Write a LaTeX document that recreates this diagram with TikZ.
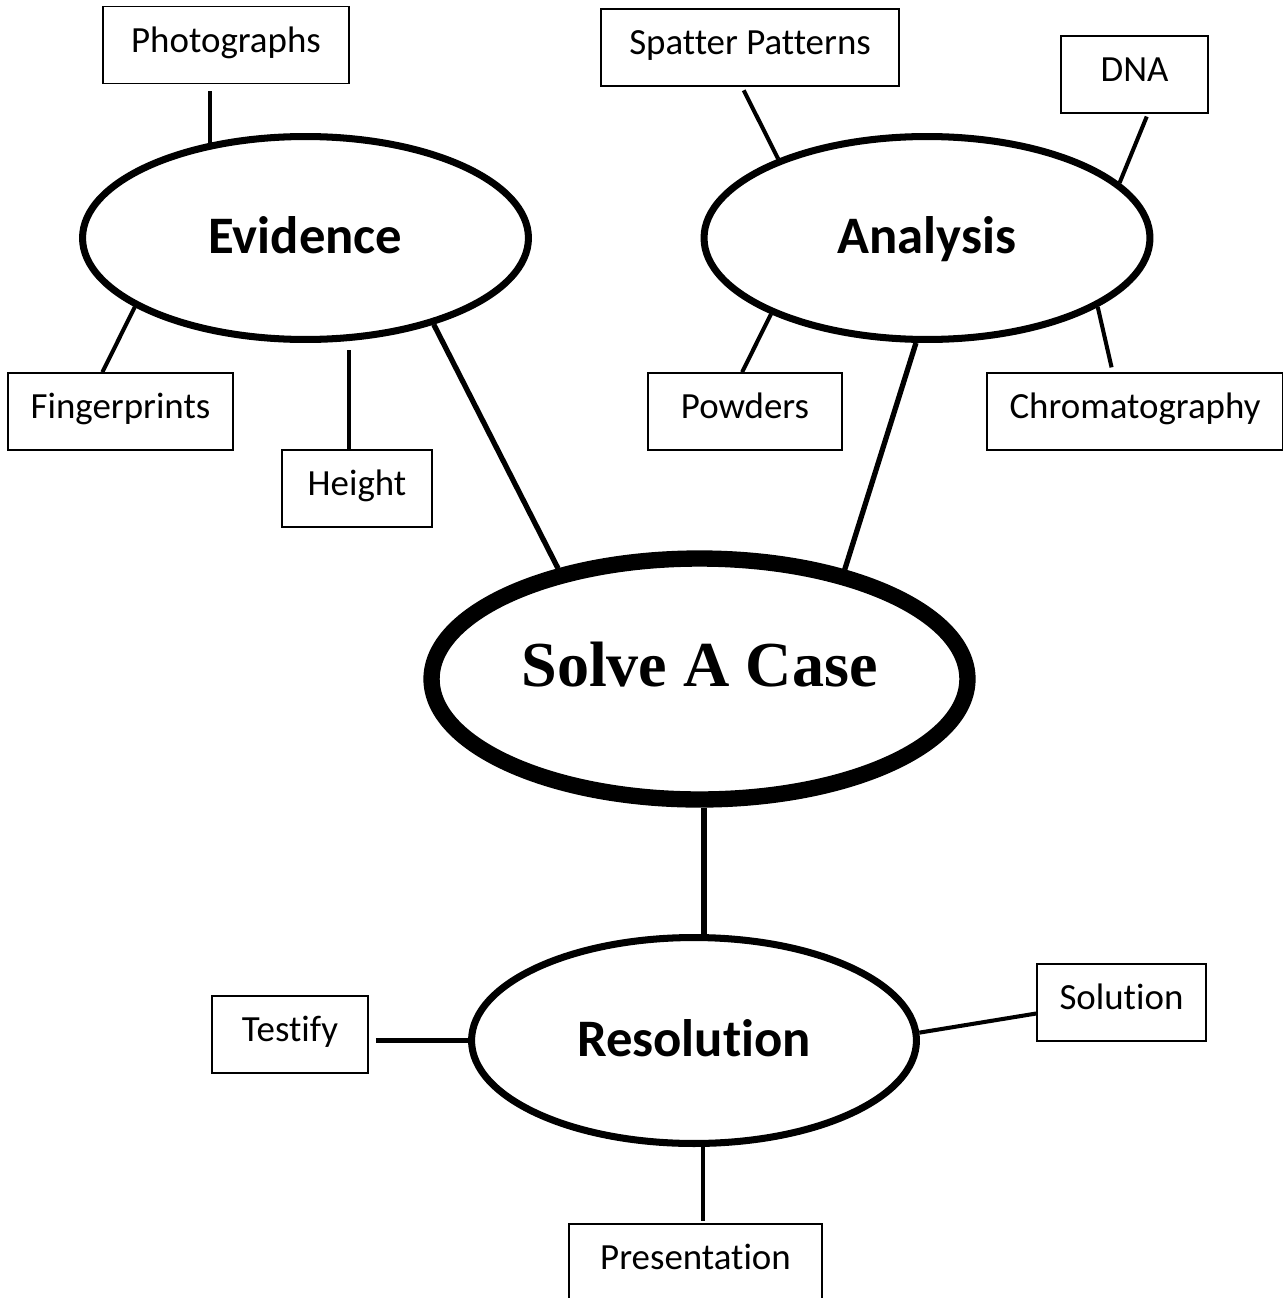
\documentclass[tikz,border=0pt]{standalone}
\usepackage{fontspec}
\setmainfont{Carlito}[Ligatures=CommonOff]
\newfontfamily\hubfont{Liberation Serif}[Ligatures=CommonOff]
\usepackage{tikz}
\usetikzlibrary{shapes.geometric,calc}

\tikzset{
  leaf/.style={draw, rectangle, line width=0.9pt, inner sep=0pt, minimum height=1.54cm,
    text height=14.7pt, text depth=6.7pt, font=\fontsize{21}{25}\selectfont},
  branch/.style={draw, ellipse, line width=4pt, inner sep=0pt, minimum width=8.92cm, minimum height=4.06cm,
    text height=18pt, text depth=0pt, font=\fontsize{30}{36}\selectfont\bfseries},
  twig/.style={line width=2.3pt},
  trunk/.style={line width=3pt},
}

\begin{document}
\begin{tikzpicture}[x=0.02cm, y=-0.02cm]
    \useasboundingbox (0,0) rectangle (1282,1298);
    % centre and branches
    \node[draw, ellipse, line width=9.3pt, inner sep=0pt, minimum width=10.72cm, minimum height=4.82cm,
      text height=26.3pt, text depth=18.3pt, font=\fontsize{36.5}{42}\selectfont\hubfont\bfseries]
      (sol) at (699.5,679) {Solve A Case};
    \node[branch] (ev) at (305.5,238) {Evidence};
    \node[branch] (an) at (927,238) {Analysis};
    \node[branch, minimum width=8.9cm, minimum height=4.12cm] (res) at (694,1040.5) {Resolution};
    % leaves
    \node[leaf, minimum width=4.92cm] (pho) at (226,45) {Photographs};
    \node[leaf, minimum width=4.5cm] (fin) at (120.5,411.5) {Fingerprints};
    \node[leaf, minimum width=3cm] (hei) at (357,488.5) {Height};
    \node[leaf, minimum width=5.96cm] (spa) at (750,47.5) {Spatter Patterns};
    \node[leaf, minimum width=2.94cm] (dna) at (1134.5,74.5) {DNA};
    \node[leaf, minimum width=3.88cm] (pow) at (745,411.5) {Powders};
    \node[leaf, minimum width=5.92cm] (chr) at (1135,411.5) {Chromatography};
    \node[leaf, minimum width=3.12cm] (tes) at (290,1034.5) {Testify};
    \node[leaf, minimum width=3.38cm] (sln) at (1121.5,1002.5) {Solution};
    \node[leaf, minimum width=5.06cm] (pre) at (695.5,1262.5) {Presentation};
    % connectors
    \draw[twig, shorten <=0.14cm] (ev.135.5 |- pho.south) -- (ev.135.5);
    \draw[twig] ($(fin.north west)!0.42!(fin.north east)$) -- (ev.202);
    \draw[twig, shorten >=0.18cm] (ev.293.4 |- hei.north) -- (ev.293.4);
    \draw[twig, shorten <=0.08cm] ($(spa.south west)!0.473!(spa.south east)$) -- (an.152);
    \draw[twig, shorten <=0.06cm] ($(dna.south west)!0.59!(dna.south east)$) -- (an.16.6);
    \draw[twig] ($(pow.north west)!0.485!(pow.north east)$) -- (an.206.1);
    \draw[twig, shorten <=0.1cm] ($(chr.north west)!0.425!(chr.north east)$) -- (an.338.1);
    \draw[trunk] (ev.326.4) -- (sol.142.2);
    \draw[trunk] (an.264.7) -- (sol.37.3);
    \draw[trunk] (sol.272.4) -- (sol.272.4 |- res.north);
    \draw[twig, shorten <=0.14cm] (res.west -| tes.east) -- (res.west);
    \draw[twig] (res.2.9) -- ($(sln.north west)!0.64!(sln.south west)$);
    \draw[twig, shorten >=0.04cm] (res.275.4) -- (res.275.4 |- pre.north);
\end{tikzpicture}
\end{document}
